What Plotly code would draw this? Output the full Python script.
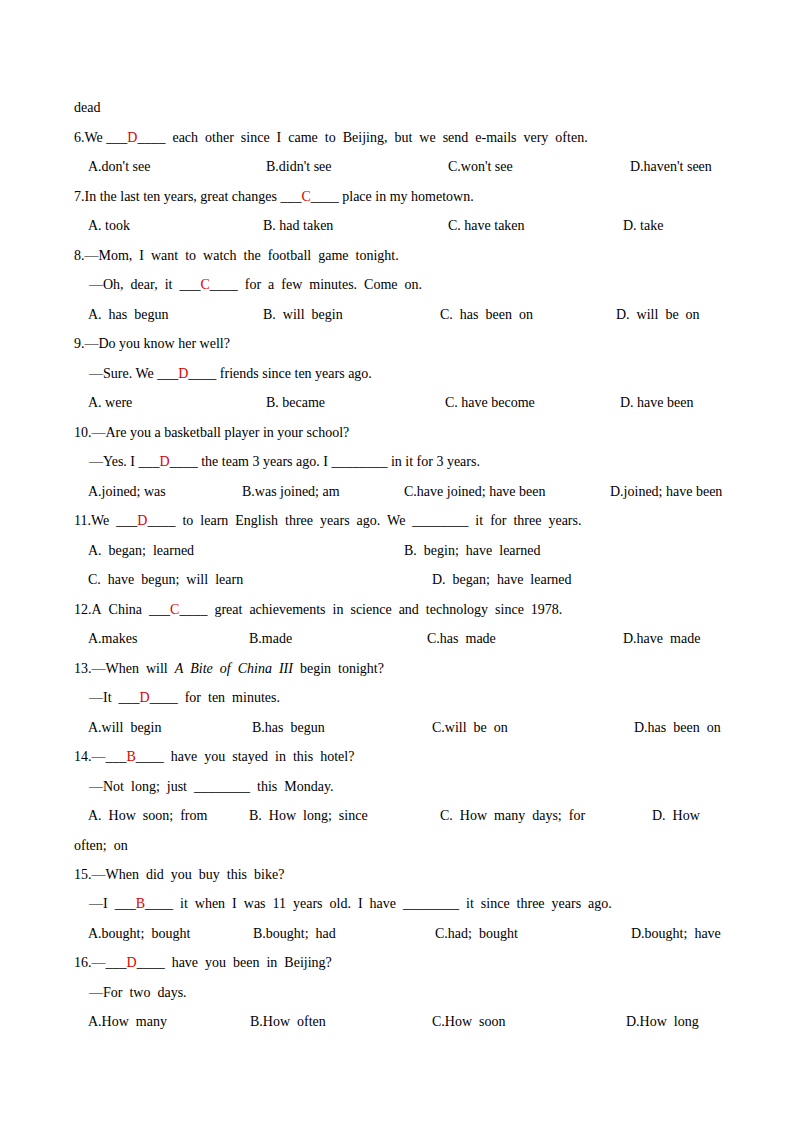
import plotly.graph_objects as go

R = lambda s: "<span style='color:#e00000'>%s</span>" % s

# Each line: list of (column x in px, text)
lines = [
    [(74, "dead")],
    [(74, "6.We ___" + R("D") + "____  each  other  since  I  came  to  Beijing,  but  we  send  e‐mails  very  often.")],
    [(88, "A.don't see"), (266, "B.didn't see"), (448, "C.won't see"), (630, "D.haven't seen")],
    [(74, "7.In the last ten years, great changes ___" + R("C") + "____ place in my hometown.")],
    [(88, "A. took"), (263, "B. had taken"), (448, "C. have taken"), (623, "D. take")],
    [(74, "8.—Mom,  I  want  to  watch  the  football  game  tonight.")],
    [(88, "—Oh,  dear,  it  ___" + R("C") + "____  for  a  few  minutes.  Come  on.")],
    [(88, "A.  has  begun"), (263, "B.  will  begin"), (440, "C.  has  been  on"), (616, "D.  will  be  on")],
    [(74, "9.—Do you know her well?")],
    [(88, "—Sure. We ___" + R("D") + "____ friends since ten years ago.")],
    [(88, "A. were"), (266, "B. became"), (445, "C. have become"), (620, "D. have been")],
    [(74, "10.—Are you a basketball player in your school?")],
    [(88, "—Yes. I ___" + R("D") + "____ the team 3 years ago. I ________ in it for 3 years.")],
    [(88, "A.joined; was"), (242, "B.was joined; am"), (404, "C.have joined; have been"), (610, "D.joined; have been")],
    [(74, "11.We  ___" + R("D") + "____  to  learn  English  three  years  ago.  We  ________  it  for  three  years.")],
    [(88, "A.  began;  learned"), (404, "B.  begin;  have  learned")],
    [(88, "C.  have  begun;  will  learn"), (432, "D.  began;  have  learned")],
    [(74, "12.A  China  ___" + R("C") + "____  great  achievements  in  science  and  technology  since  1978.")],
    [(88, "A.makes"), (249, "B.made"), (427, "C.has  made"), (623, "D.have  made")],
    [(74, "13.—When  will  <i>A  Bite  of  China  III</i>  begin  tonight?")],
    [(88, "—It  ___" + R("D") + "____  for  ten  minutes.")],
    [(88, "A.will  begin"), (252, "B.has  begun"), (432, "C.will  be  on"), (634, "D.has  been  on")],
    [(74, "14.—___" + R("B") + "____  have  you  stayed  in  this  hotel?")],
    [(88, "—Not  long;  just  ________  this  Monday.")],
    [(88, "A.  How  soon;  from"), (249, "B.  How  long;  since"), (440, "C.  How  many  days;  for"), (652, "D.  How")],
    [(74, "often;  on")],
    [(74, "15.—When  did  you  buy  this  bike?")],
    [(88, "—I  ___" + R("B") + "____  it  when  I  was  11  years  old.  I  have  ________  it  since  three  years  ago.")],
    [(88, "A.bought;  bought"), (253, "B.bought;  had"), (435, "C.had;  bought"), (631, "D.bought;  have")],
    [(74, "16.—___" + R("D") + "____  have  you  been  in  Beijing?")],
    [(88, "—For  two  days.")],
    [(88, "A.How  many"), (250, "B.How  often"), (432, "C.How  soon"), (626, "D.How  long")],
]

W, H = 800, 1132
top, step = 107, 29.48
dx, dy = -10, -7
ann = []
for i, segs in enumerate(lines):
    y = top + i * step + dy
    for x, t in segs:
        ann.append(dict(x=(x + dx) / W, y=1 - y / H, xref="paper", yref="paper", text=t.replace("  ", "&nbsp; "),
                        showarrow=False, xanchor="left", yanchor="middle",
                        font=dict(family="Liberation Serif", size=14, color="black")))

fig = go.Figure()
fig.update_layout(width=W, height=H, margin=dict(l=0, r=0, t=0, b=0),
                  paper_bgcolor="white", plot_bgcolor="white",
                  xaxis=dict(visible=False), yaxis=dict(visible=False),
                  annotations=ann)
fig.write_html("out.html")
